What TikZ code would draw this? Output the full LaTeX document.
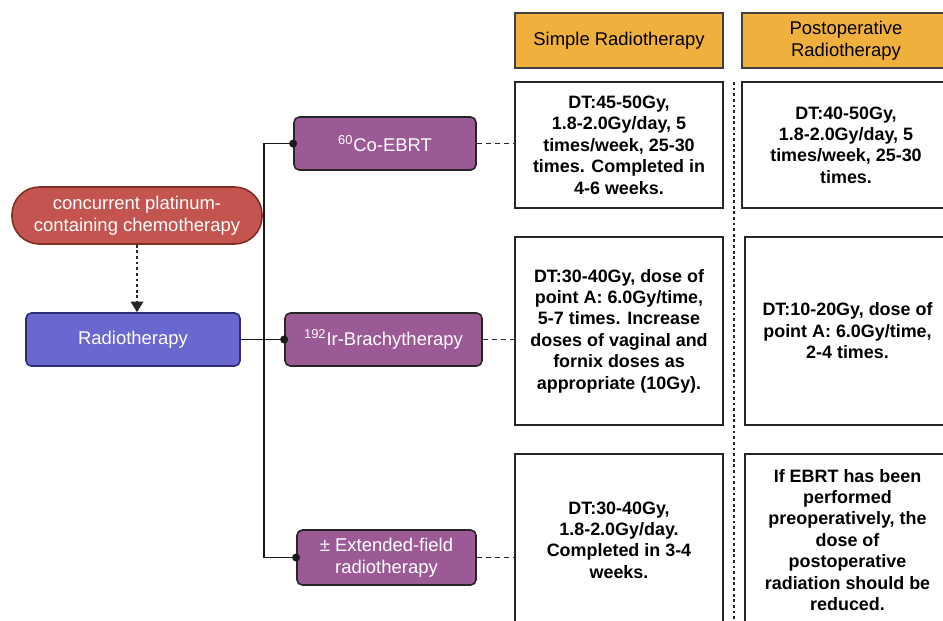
\documentclass[tikz,border=0pt]{standalone}
\usepackage{fontspec}
\setmainfont{Liberation Sans}
\usetikzlibrary{arrows.meta,positioning,calc}
\definecolor{hdorange}{HTML}{F0B03E}
\definecolor{chemored}{HTML}{C4544F}
\definecolor{chemoedge}{HTML}{7E2E22}
\definecolor{rtblue}{HTML}{6A67CE}
\definecolor{rtedge}{HTML}{2E2B78}
\definecolor{modpurple}{HTML}{9B5A96}

\begin{document}
\begin{tikzpicture}[
  font=\fontsize{10.5}{12.5}\selectfont,
  lft/.style={draw=black!85, line width=0.9pt, rounded corners=3pt, align=center,
              text=white, minimum height=1.06cm, inner sep=2pt},
  mod/.style={lft, fill=modpurple},
  hdr/.style={draw=black!75, line width=0.9pt, fill=hdorange, align=center,
              minimum width=4.16cm, minimum height=1.1cm,
              font=\fontsize{10.5}{12.4}\selectfont},
  dose/.style={draw=black!85, line width=0.9pt, fill=white, align=center,
               minimum width=4.16cm, font=\bfseries\fontsize{10.2}{12.2}\selectfont},
  link/.style={dash pattern=on 2.8pt off 2.4pt, line width=1pt, black!85},
  sep/.style={dash pattern=on 1.6pt off 1.6pt, line width=1pt, black!85},
  trunk/.style={line width=0.9pt, black!90, shorten <=-2.2pt, shorten >=-2.2pt}
]
\useasboundingbox (0,0) rectangle (18.86,-12.4);
\clip (0,0) rectangle (18.86,-12.4);

% column headers
\node[hdr] (hsr) at (12.38,-0.81) {Simple Radiotherapy};
\node[hdr] (hpo) at (16.92,-0.81) {Postoperative\\Radiotherapy};

% dose boxes
\node[dose, minimum height=2.52cm] (sr1) at (12.38,-2.90) {DT:45-50Gy,\\1.8-2.0Gy/day, 5\\times/week, 25-30\\times. Completed in\\4-6 weeks.};
\node[dose, minimum height=2.52cm] (po1) at (16.92,-2.90) {DT:40-50Gy,\\1.8-2.0Gy/day, 5\\times/week, 25-30\\times.};
\node[dose, minimum height=3.76cm] (sr2) at (12.38,-6.62) {DT:30-40Gy, dose of\\point A: 6.0Gy/time,\\5-7 times. Increase\\doses of vaginal and\\fornix doses as\\appropriate (10Gy).};
\node[dose, minimum height=3.76cm, minimum width=4.1cm] (po2) at (16.95,-6.62) {DT:10-20Gy, dose of\\point A: 6.0Gy/time,\\2-4 times.};
\node[dose, minimum height=3.44cm] (sr3) at (12.38,-10.80) {DT:30-40Gy,\\1.8-2.0Gy/day.\\Completed in 3-4\\weeks.};
\node[dose, minimum height=3.44cm, minimum width=4.1cm] (po3) at (16.95,-10.80) {If EBRT has been\\performed\\preoperatively, the\\dose of\\postoperative\\radiation should be\\reduced.};
\coordinate (septop) at (14.68,-1.64);
\draw[sep] (septop) -- (septop |- 0,-12.4);

% left side
\node[lft, fill=chemored, draw=chemoedge, rounded corners=0.55cm,
      minimum width=5.0cm, minimum height=1.14cm] (chemo) at (2.74,-4.31)
      {concurrent platinum-\\containing chemotherapy};
\node[lft, fill=rtblue, draw=rtedge, minimum width=4.28cm] (radio) at (2.66,-6.79) {Radiotherapy};
\node[mod, minimum width=3.64cm] (co) at (7.70,-2.87) {\textsuperscript{60}Co-EBRT};
\node[mod, minimum width=3.94cm] (ir) at (7.67,-6.79) {\textsuperscript{192}Ir-Brachytherapy};
\node[mod, minimum width=3.58cm, minimum height=1.1cm] (ext) at (7.73,-11.15) {± Extended-field\\radiotherapy};
\coordinate (trk) at (5.28,-6.79);

\draw[sep, line width=1.2pt, -{Triangle[length=6pt,width=7pt]}] (chemo.south) -- (chemo.south |- radio.north);
\draw[trunk, {Circle[length=4.5pt]}-{Circle[length=4.5pt]}] (co.west) -| (trk |- ext.west) -- (ext.west);
\draw[trunk, shorten <=0pt, -{Circle[length=4.5pt]}] (radio.east) -- (ir.west);
\draw[link] (co.east) -- (co.east -| sr1.west);
\draw[link] (ir.east) -- (ir.east -| sr2.west);
\draw[link] (ext.east) -- (ext.east -| sr3.west);
\end{tikzpicture}
\end{document}
